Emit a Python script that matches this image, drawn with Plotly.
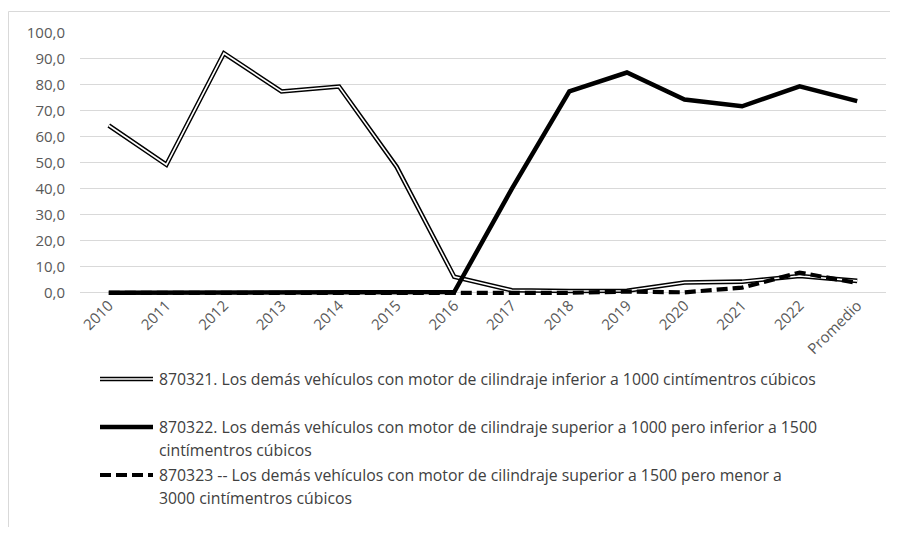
import plotly.graph_objects as go

categories = ["2010", "2011", "2012", "2013", "2014", "2015", "2016", "2017",
              "2018", "2019", "2020", "2021", "2022", "Promedio"]
s870321 = [64.4, 49.3, 92.2, 77.5, 79.4, 48.5, 6.2, 1.0, 0.7, 0.8, 4.0, 4.3, 6.5, 4.6]
s870322 = [0.0, 0.0, 0.0, 0.0, 0.0, 0.0, 0.3, 40.0, 77.5, 84.8, 74.4, 71.8, 79.5, 73.8]
s870323 = [0.0, 0.0, 0.0, 0.0, 0.0, 0.0, 0.3, 0.0, 0.0, 0.5, 0.2, 2.0, 7.8, 3.8]
yticks = [0, 10, 20, 30, 40, 50, 60, 70, 80, 90, 100]

names = [
    ["870321. Los demás vehículos con motor de cilindraje inferior a 1000 cintímentros cúbicos"],
    ["870322. Los demás vehículos con motor de cilindraje superior a 1000 pero inferior a 1500",
     "cintímentros cúbicos"],
    ["870323 -- Los demás vehículos con motor de cilindraje superior a 1500 pero menor a",
     "3000 cintímentros cúbicos"],
]

FONT = "Open Sans, sans-serif"
OFF = 8                      # page body margin
W, H = 898 - OFF, 537 - OFF
YMIN = -1.6                  # small headroom so the thick zero line is not clipped
L, R, T, B = 80 - OFF, 12, 25, 240
PW, PH = W - L - R, H - T - B

def px(x):                   # page pixel -> paper
    return (x - OFF - L) / PW

def py(y):
    return (H - B - (y - OFF)) / PH

fig = go.Figure()
fig.add_trace(go.Scatter(x=categories, y=s870321, mode="lines",
                         line=dict(color="black", width=4.6), showlegend=False,
                         name=names[0][0]))
fig.add_trace(go.Scatter(x=categories, y=s870321, mode="lines",
                         line=dict(color="white", width=1.6), showlegend=False,
                         hoverinfo="skip"))
fig.add_trace(go.Scatter(x=categories, y=s870322, mode="lines",
                         line=dict(color="black", width=4.5), showlegend=False,
                         name=" ".join(names[1])))
fig.add_trace(go.Scatter(x=categories, y=s870323, mode="lines",
                         line=dict(color="black", width=4.2, dash="11px,5px"),
                         showlegend=False, name=" ".join(names[2])))

shapes = []
# outer chart border (only top and left edges visible in the crop)
border = dict(color="#d9d9d9", width=1)
shapes.append(dict(type="line", xref="paper", yref="paper",
                   x0=px(8.5), x1=px(900), y0=py(11.5), y1=py(11.5),
                   line=border, layer="below"))
shapes.append(dict(type="line", xref="paper", yref="paper",
                   x0=px(8.5), x1=px(8.5), y0=py(11.5), y1=py(527),
                   line=border, layer="below"))

# manual legend
leg_x0, leg_x1, txt_x = 100, 153, 157
sym_y = [379, 427, 475]
line_gap = 23
styles = [
    [dict(color="black", width=4.6), dict(color="white", width=1.6)],
    [dict(color="black", width=4.5)],
    [dict(color="black", width=4.2, dash="11px,5px")],
]
annotations = []
for i, (yy, st) in enumerate(zip(sym_y, styles)):
    for s in st:
        shapes.append(dict(type="line", xref="paper", yref="paper",
                           x0=px(leg_x0), x1=px(leg_x1), y0=py(yy), y1=py(yy),
                           line=s))
    for j, txt in enumerate(names[i]):
        annotations.append(dict(text=txt, xref="paper", yref="paper",
                                x=px(txt_x), y=py(yy + j * line_gap),
                                xanchor="left", yanchor="middle", showarrow=False,
                                font=dict(family=FONT, size=15.8, color="#404040")))

fig.update_layout(
    width=W, height=H,
    margin=dict(l=L, r=R, t=T, b=B, autoexpand=False),
    paper_bgcolor="white", plot_bgcolor="white",
    separators=",.",
    showlegend=False,
    shapes=shapes,
    annotations=annotations,
    font=dict(family=FONT, size=15, color="#595959"),
    xaxis=dict(type="category", categoryorder="array", categoryarray=categories,
               range=[-0.5, len(categories) - 0.5], tickangle=-45,
               showgrid=False, showline=False, ticks="", zeroline=False,
               automargin=False, ticklabelstandoff=-4,
               tickfont=dict(family=FONT, size=15, color="#595959")),
    yaxis=dict(range=[YMIN, 100], tickvals=yticks, tickformat=".1f",
               showgrid=True, gridcolor="#d9d9d9", gridwidth=1,
               zeroline=False, showline=False, ticks="",
               automargin=False, ticklabelstandoff=14,
               tickfont=dict(family=FONT, size=15, color="#595959")),
)

fig.write_html("out.html")
